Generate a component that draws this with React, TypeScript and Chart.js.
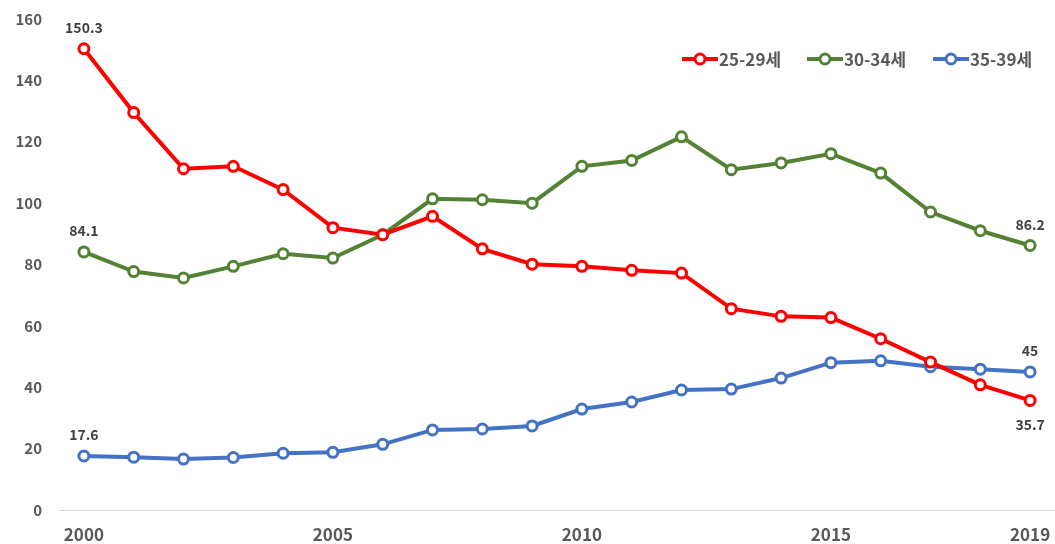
import React, { useEffect, useRef } from "react";
import { Chart, registerables } from "chart.js";

Chart.register(...registerables);

const years = [
  "2000", "2001", "2002", "2003", "2004", "2005", "2006", "2007", "2008", "2009",
  "2010", "2011", "2012", "2013", "2014", "2015", "2016", "2017", "2018", "2019",
];
const shownYears = ["2000", "2005", "2010", "2015", "2019"];
const yTicks = [0, 20, 40, 60, 80, 100, 120, 140, 160];

const age25_29 = [150.3, 129.5, 111.2, 112.0, 104.4, 92.0, 89.7, 95.7, 85.1, 80.1, 79.4, 78.1, 77.2, 65.6, 63.1, 62.7, 55.8, 48.2, 40.8, 35.7];
const age30_34 = [84.1, 77.7, 75.6, 79.4, 83.5, 82.1, 89.7, 101.4, 101.1, 100.0, 112.0, 113.9, 121.6, 110.9, 113.1, 116.1, 109.8, 97.1, 91.0, 86.2];
const age35_39 = [17.6, 17.2, 16.6, 17.1, 18.5, 18.8, 21.4, 26.1, 26.4, 27.4, 32.9, 35.2, 39.1, 39.4, 43.0, 48.0, 48.6, 46.7, 45.9, 45];

const seriesNames = ["25-29세", "30-34세", "35-39세"];
const seriesColors = ["#FF0000", "#548235", "#4472C4"];
const firstLabelPos = ["above", "above", "above"];
const lastLabelPos = ["below", "above", "above"];

const FONT = "'Noto Sans CJK KR', 'Noto Sans', sans-serif";

export default function App() {
  const ref = useRef<HTMLCanvasElement | null>(null);

  useEffect(() => {
    document.body.style.margin = "0";
    document.body.style.overflow = "hidden";
    document.documentElement.style.overflow = "hidden";
    const canvas = ref.current;
    if (!canvas) return;

    const endLabels = {
      id: "endLabels",
      afterDatasetsDraw(chart: any) {
        const ctx = chart.ctx;
        ctx.save();
        ctx.font = `bold 14px ${FONT}`;
        ctx.fillStyle = "#404040";
        ctx.textAlign = "center";
        ctx.textBaseline = "middle";
        chart.data.datasets.forEach((ds: any, i: number) => {
          const meta = chart.getDatasetMeta(i);
          const n = ds.data.length;
          const pts = [
            { p: meta.data[0], v: ds.data[0], pos: firstLabelPos[i] },
            { p: meta.data[n - 1], v: ds.data[n - 1], pos: lastLabelPos[i] },
          ];
          pts.forEach(({ p, v, pos }) => {
            const dy = pos === "above" ? -21 : 24;
            ctx.fillText(String(v), p.x, p.y + dy);
          });
        });
        ctx.restore();
      },
    };

    const customLegend = {
      id: "customLegend",
      afterDraw(chart: any) {
        const ctx = chart.ctx;
        ctx.save();
        const startXs = [682, 807, 933];
        const y = 59;
        ctx.font = `bold 17px ${FONT}`;
        ctx.textBaseline = "middle";
        ctx.textAlign = "left";
        chart.data.datasets.forEach((ds: any, i: number) => {
          const x0 = startXs[i];
          ctx.strokeStyle = ds.borderColor;
          ctx.lineWidth = 4;
          ctx.beginPath();
          ctx.moveTo(x0, y);
          ctx.lineTo(x0 + 36, y);
          ctx.stroke();
          ctx.beginPath();
          ctx.arc(x0 + 18, y, 5, 0, Math.PI * 2);
          ctx.fillStyle = "#ffffff";
          ctx.fill();
          ctx.lineWidth = 3;
          ctx.stroke();
          ctx.fillStyle = "#595959";
          ctx.fillText(ds.label, x0 + 37, y + 1);
        });
        ctx.restore();
      },
    };

    const datasets = [age25_29, age30_34, age35_39].map((d, i) => ({
      label: seriesNames[i],
      data: d,
      borderColor: seriesColors[i],
      backgroundColor: seriesColors[i],
      borderWidth: 4,
      pointRadius: 5,
      pointBorderWidth: 3,
      pointBackgroundColor: "#ffffff",
      pointBorderColor: seriesColors[i],
      tension: 0,
      clip: false as any,
    }));

    const chart = new Chart(canvas, {
      type: "line",
      data: { labels: years, datasets },
      options: {
        animation: false,
        responsive: true,
        maintainAspectRatio: false,
        layout: { autoPadding: false, padding: { top: 19, right: 0, bottom: 0, left: 0 } },
        plugins: {
          legend: { display: false },
          tooltip: { enabled: false },
        },
        scales: {
          x: {
            type: "category",
            offset: true,
            afterFit: (s: any) => {
              s.height = 34;
              s.paddingLeft = 0;
              s.paddingRight = 0;
              s.paddingTop = 0;
              s.paddingBottom = 0;
            },
            grid: { display: false, drawTicks: false },
            border: { display: true, color: "#d9d9d9", width: 1 },
            ticks: {
              autoSkip: false,
              maxRotation: 0,
              padding: 14,
              color: "#595959",
              font: { family: FONT, size: 17, weight: "bold" },
              callback: (_v: any, idx: number) =>
                shownYears.includes(years[idx]) ? years[idx] : "",
            },
          },
          y: {
            min: 0,
            max: 160,
            afterBuildTicks: (s: any) => {
              s.ticks = yTicks.map((v) => ({ value: v }));
            },
            afterFit: (s: any) => {
              s.width = 59;
              s.paddingTop = 0;
              s.paddingBottom = 0;
              s.paddingLeft = 0;
              s.paddingRight = 0;
            },
            grid: { display: false, drawTicks: false },
            border: { display: false },
            ticks: {
              padding: 17,
              color: "#595959",
              font: { family: FONT, size: 15, weight: "bold" },
            },
          },
        },
      },
      plugins: [endLabels, customLegend],
    });

    return () => chart.destroy();
  }, []);

  return (
    <div style={{ position: "fixed", left: 0, top: 0, width: 1055, height: 544, overflow: "hidden" }}>
      <canvas ref={ref} style={{ display: "block" }} />
    </div>
  );
}
